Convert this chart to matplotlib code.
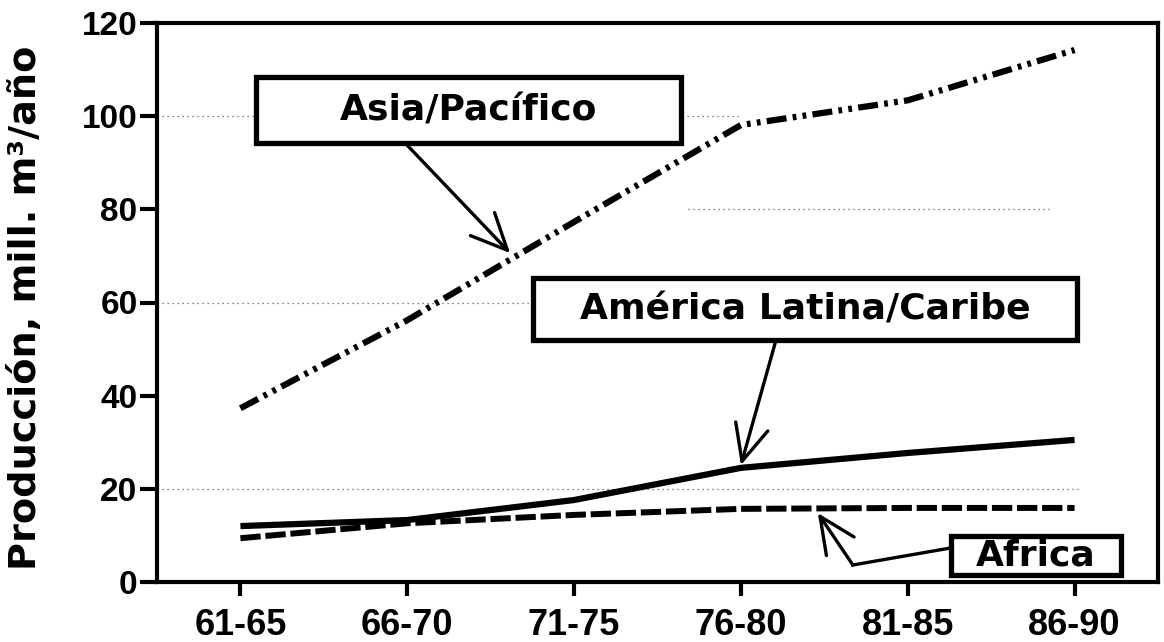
import matplotlib
matplotlib.use("Agg")
import matplotlib.pyplot as plt
from matplotlib.patches import Rectangle

# ---- data ----
periods = ["61-65", "66-70", "71-75", "76-80", "81-85", "86-90"]
asia = [37.3, 56.2, 77.3, 98.1, 103.4, 114.2]
america = [12.0, 13.3, 17.6, 24.5, 27.7, 30.5]
africa = [9.4, 12.6, 14.4, 15.7, 15.9, 15.9]
yticks = [0, 20, 40, 60, 80, 100, 120]
ylabel = "Producción, mill. m³/año"
lab_asia = "Asia/Pacífico"
lab_america = "América Latina/Caribe"
lab_africa = "Africa"

BOLD = ["DejaVu Sans"]
TICKF = ["Liberation Sans", "DejaVu Sans"]

fig = plt.figure(figsize=(11.64, 6.42), dpi=100)
ax = fig.add_axes([157/1164, 1-582/642, (1158-157)/1164, (582-23)/642])

x = list(range(len(periods)))

# faint dotted gridline fragments
grid_kw = dict(color="0.35", lw=0.9, linestyle=(0, (1, 3)), zorder=1)
ax.hlines(100, -0.5, 3.0, **grid_kw)
ax.hlines(80, 2.68, 4.87, **grid_kw)
ax.hlines(60, -0.5, 1.8, **grid_kw)
ax.hlines(20, -0.5, 5.02, **grid_kw)

ax.plot(x, asia, color="black", lw=4.5,
        linestyle=(0, (3.2, 1.0, 0.6, 1.0, 0.6, 1.0)), zorder=3)
ax.plot(x, america, color="black", lw=4.5, linestyle="-", zorder=3,
        solid_capstyle="butt")
ax.plot(x, africa, color="black", lw=4.3,
        linestyle=(0, (3.4, 0.8)), zorder=3)

ax.set_xlim(-0.5, 5.5)
ax.set_ylim(0, 120)
ax.set_xticks(x)
ax.set_xticklabels(periods)
ax.set_yticks(yticks)
ax.set_yticklabels([str(v) for v in yticks])

for s in ax.spines.values():
    s.set_linewidth(3.0)
ax.tick_params(axis="y", direction="out", length=12, width=3, pad=2,
               labelsize=24)
ax.tick_params(axis="x", direction="out", length=10, width=3, pad=9,
               labelsize=26)
for lab in ax.get_xticklabels() + ax.get_yticklabels():
    lab.set_fontfamily(TICKF)
    lab.set_fontweight("bold")

ax.set_ylabel(ylabel, fontsize=27.5, fontweight="bold", family=BOLD)
ax.yaxis.set_label_coords(-0.113, 0.49)


def box(x0, x1, y0, y1, text, fs):
    ax.add_patch(Rectangle((x0, y0), x1 - x0, y1 - y0, facecolor="white",
                           edgecolor="black", lw=3.8, zorder=5))
    ax.text((x0 + x1) / 2, (y0 + y1) / 2, text, ha="center", va="center",
            fontsize=fs, fontweight="bold", family=BOLD, zorder=6)


box(0.096, 2.64, 94.2, 108.4, lab_asia, 26)
box(1.754, 5.012, 51.9, 65.2, lab_america, 26)
box(4.257, 5.281, 1.5, 9.9, lab_africa, 26)

arr = dict(arrowstyle="->,head_length=1.3,head_width=0.6", lw=2.4,
           color="black", shrinkA=0, shrinkB=0, mutation_scale=20)
ax.annotate("", xy=(1.617, 70.6), xytext=(0.988, 94.2), arrowprops=arr,
            zorder=4)
ax.annotate("", xy=(3.0, 25.1), xytext=(3.21, 51.9), arrowprops=arr,
            zorder=4)
ax.plot([4.257, 3.671], [7.3, 3.65], color="black", lw=2.4, zorder=4)
ax.annotate("", xy=(3.461, 14.8), xytext=(3.671, 3.65), arrowprops=arr,
            zorder=4)

fig.savefig("out.png", dpi=100)
